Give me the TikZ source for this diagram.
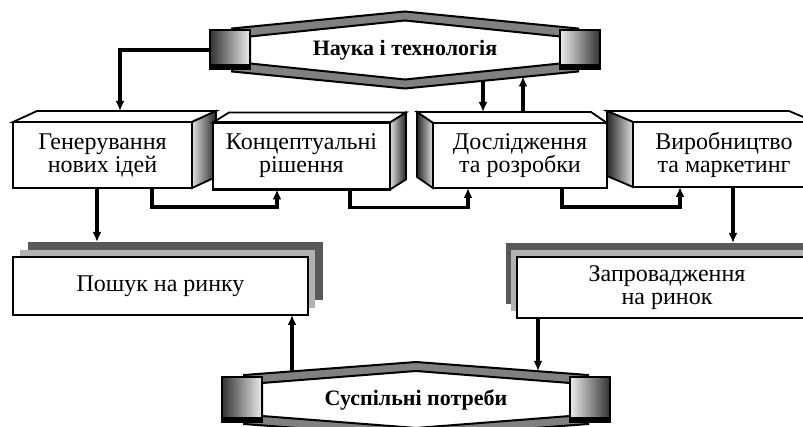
\documentclass[tikz,border=0pt]{standalone}
\usepackage{fontspec}
\setmainfont{Liberation Serif}
\usetikzlibrary{arrows.meta, calc, backgrounds}

\begin{document}
\begin{tikzpicture}[x=1pt, y=-1pt,
    box/.style={draw, line width=2.4pt, fill=white, outer sep=0pt, inner sep=0pt, align=center, font=\fontsize{24}{23}\selectfont},
    ribbon/.style={outer sep=0pt, inner sep=0pt, font=\bfseries\fontsize{22}{23}\selectfont},
    link/.style={line width=3.2pt, -{Latex[length=10pt, width=9pt]}},
    boxface/.style={line width=1.8pt}]
    \useasboundingbox (0,0) rectangle (803,427);
    \clip (0,0) rectangle (803,427);

    % Ribbons
    \node[ribbon, minimum width=390pt, minimum height=39pt] (nauka) at (405,50) {Наука і технологія};
    \node[ribbon, minimum width=388pt, minimum height=45pt] (potreby) at (416,399.5) {Суспільні потреби};

    % Stages
    \node[box, minimum width=179pt, minimum height=66pt] (gen) at (102.5,155) {Генерування\\нових ідей};
    \node[box, minimum width=177pt, minimum height=67pt] (konc) at (301.5,156) {Концептуальні\\рішення};
    \node[box, minimum width=174pt, minimum height=65pt] (dosl) at (520,155.5) {Дослідження\\та розробки};
    \node[box, minimum width=182pt, minimum height=65pt] (vyr) at (724,154.5) {Виробництво\\та маркетинг};
    \node[box, minimum width=295pt, minimum height=58pt] (posh) at (160.5,286) {Пошук на ринку};
    \node[box, minimum width=300pt, minimum height=61pt] (zapr) at (667,287.5) {Запровадження\\на ринок};

    \begin{scope}[on background layer]
      % ribbon bands and end caps
      \foreach \r/\lh in {nauka/19, potreby/15} {
        \filldraw[fill=black!50, line width=2pt]
          ([xshift=22,yshift=2]\r.north west) -- ([yshift=\lh]\r.north) -- ([xshift=-22,yshift=2]\r.north east)
          -- ([xshift=-22,yshift=-2]\r.south east) -- ([yshift=-\lh]\r.south) -- ([xshift=22,yshift=-2]\r.south west) -- cycle;
        \filldraw[fill=white, line width=2pt]
          ([xshift=40,yshift=-6]\r.north west) -- ([yshift=\lh-9]\r.north) -- ([xshift=-40,yshift=-6]\r.north east)
          -- ([xshift=-40,yshift=6]\r.south east) -- ([yshift=9-\lh]\r.south) -- ([xshift=40,yshift=6]\r.south west) -- cycle;
        \draw[line width=2pt, left color=black!80, right color=gray!15] (\r.north west) rectangle ([xshift=40]\r.south west);
        \draw[line width=2pt, left color=gray!15, right color=black!80] ([xshift=-40]\r.north east) rectangle (\r.south east);
        \fill (\r.south west) rectangle ([xshift=40,yshift=5]\r.south west);
        \fill ([xshift=-40]\r.south east) rectangle ([yshift=5]\r.south east);
      }

      % box tops and sides
      \filldraw[boxface, fill=white] (gen.north west) -- ++(24,-11) -- ++(179,0) -- (gen.north east) -- cycle;
      \draw[boxface, left color=gray!25, right color=black!85] (gen.north east) -- ++(24,-11) -- ++(0,66) -- (gen.south east) -- cycle;
      \filldraw[boxface, fill=white] (konc.north west) -- ++(16,-10) -- ++(177,0) -- (konc.north east) -- cycle;
      \draw[boxface, left color=gray!25, right color=black!85] (konc.north east) -- ++(16,-10) -- ++(0,67) -- (konc.south east) -- cycle;
      \filldraw[boxface, fill=white] (dosl.north east) -- ++(-16,-11) -- ++(-174,0) -- (dosl.north west) -- cycle;
      \draw[boxface, left color=black!85, right color=gray!25] (dosl.north west) -- ++(-16,-11) -- ++(0,65) -- (dosl.south west) -- cycle;
      \filldraw[boxface, fill=white] (vyr.north east) -- ++(-26,-11) -- ++(-182,0) -- (vyr.north west) -- cycle;
      \draw[boxface, left color=black!85, right color=gray!25] (vyr.north west) -- ++(-26,-11) -- ++(0,65) -- (vyr.south west) -- cycle;

      % sheets behind
      \fill[black!65] ($(posh.south west)+(15,-15)$) rectangle ($(posh.north east)+(15,-15)$);
      \fill[gray!60] ($(posh.south west)+(7,-7)$) rectangle ($(posh.north east)+(7,-7)$);
      \fill[black!65] ($(zapr.south west)+(-11,-14)$) rectangle ($(zapr.north east)+(-11,-14)$);
      \fill[gray!60] ($(zapr.south west)+(-6,-7)$) rectangle ($(zapr.north east)+(-6,-7)$);
    \end{scope}

    % Links
    \draw[link] (nauka.west) -| ($(gen.north west)+(107,-11)$);
    \draw[link] ($(nauka.south)+(78,11)$) -- ($(dosl.north west)+(50,-11)$);
    \draw[link] ($(dosl.north west)+(90,-11)$) -- ($(nauka.south)+(118,7)$);
    \draw[link] ($(gen.south west)+(139,0)$) -- ++(0,19) -| ($(konc.south west)+(64,0)$);
    \draw[link] ($(konc.south west)+(137,0)$) -- ++(0,18) -| ($(dosl.south west)+(35,0)$);
    \draw[link] ($(dosl.south west)+(129,0)$) -- ++(0,19) -| ($(vyr.south west)+(47,0)$);
    \draw[link] ($(vyr.south west)+(100,0)$) -- ($(zapr.north west)+(216,-14)$);
    \draw[link] ($(gen.south west)+(84,0)$) -- ($(posh.north west)+(84,-15)$);
    \draw[link] ($(potreby.north west)+(70,-5.5)$) -- ($(posh.south west)+(279,0)$);
    \draw[link] ($(zapr.south west)+(21,0)$) -- ($(potreby.north east)+(-72,-6)$);

\end{tikzpicture}
\end{document}
